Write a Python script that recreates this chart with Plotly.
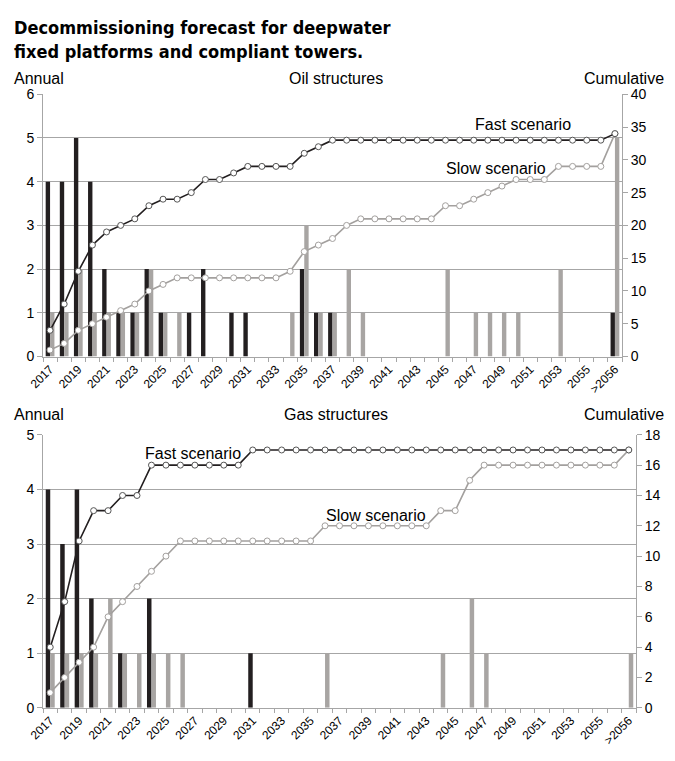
import plotly.graph_objects as go

categories = [str(y) for y in range(2017, 2057)] + [">2056"]

oil_fast_annual = [4, 4, 5, 4, 2, 1, 1, 2, 1, 0, 1, 2, 0, 1, 1, 0, 0, 0, 2, 1,
                   1, 0, 0, 0, 0, 0, 0, 0, 0, 0, 0, 0, 0, 0, 0, 0, 0, 0, 0, 0, 1]
oil_slow_annual = [1, 1, 2, 1, 1, 1, 1, 2, 1, 1, 0, 0, 0, 0, 0, 0, 0, 1, 3, 1,
                   1, 2, 1, 0, 0, 0, 0, 0, 2, 0, 1, 1, 1, 1, 0, 0, 2, 0, 0, 0, 5]
oil_fast_cum = [4, 8, 13, 17, 19, 20, 21, 23, 24, 24, 25, 27, 27, 28, 29, 29, 29, 29, 31, 32,
                33, 33, 33, 33, 33, 33, 33, 33, 33, 33, 33, 33, 33, 33, 33, 33, 33, 33, 33, 33, 34]
oil_slow_cum = [1, 2, 4, 5, 6, 7, 8, 10, 11, 12, 12, 12, 12, 12, 12, 12, 12, 13, 16, 17,
                18, 20, 21, 21, 21, 21, 21, 21, 23, 23, 24, 25, 26, 27, 27, 27, 29, 29, 29, 29, 34]

gas_fast_annual = [4, 3, 4, 2, 0, 1, 0, 2, 0, 0, 0, 0, 0, 0, 1, 0, 0, 0, 0, 0,
                   0, 0, 0, 0, 0, 0, 0, 0, 0, 0, 0, 0, 0, 0, 0, 0, 0, 0, 0, 0, 0]
gas_slow_annual = [1, 1, 1, 1, 2, 1, 1, 1, 1, 1, 0, 0, 0, 0, 0, 0, 0, 0, 0, 1,
                   0, 0, 0, 0, 0, 0, 0, 1, 0, 2, 1, 0, 0, 0, 0, 0, 0, 0, 0, 0, 1]
gas_fast_cum = [4, 7, 11, 13, 13, 14, 14, 16, 16, 16, 16, 16, 16, 16, 17, 17, 17, 17, 17, 17,
                17, 17, 17, 17, 17, 17, 17, 17, 17, 17, 17, 17, 17, 17, 17, 17, 17, 17, 17, 17, 17]
gas_slow_cum = [1, 2, 3, 4, 6, 7, 8, 9, 10, 11, 11, 11, 11, 11, 11, 11, 11, 11, 11, 12,
                12, 12, 12, 12, 12, 12, 12, 13, 13, 15, 16, 16, 16, 16, 16, 16, 16, 16, 16, 16, 17]

BLACK = "#231f20"
GRAY_BAR = "#a8a5a3"
GRAY_LINE = "#a3a09e"
GRID = "#a6a6a6"
AXIS = "#a6a6a6"
FONT = "Liberation Sans, Arial, sans-serif"
TITLE_FONT = "DejaVu Sans Condensed, Liberation Sans Narrow, Liberation Sans, sans-serif"

# the page body has an 8px margin; reference pixel coords are shifted by OFF
OFF = 8
W, H = 675 - 2 * OFF, 761 - 2 * OFF
ML = 43 - OFF
MR = W - (636 - OFF)
PW = W - ML - MR

def py(px):
    return 1 - (px - OFF) / H

def pxx(px):
    return (px - OFF - ML) / PW

xs = list(range(len(categories)))

fig = go.Figure()

def add_panel(fast_a, slow_a, fast_c, slow_c, xa, ya, ya2):
    fig.add_trace(go.Bar(x=xs, y=fast_a, marker_color=BLACK, marker_line_width=0,
                         xaxis=xa, yaxis=ya, showlegend=False, offsetgroup="f"))
    fig.add_trace(go.Bar(x=xs, y=slow_a, marker_color=GRAY_BAR, marker_line_width=0,
                         xaxis=xa, yaxis=ya, showlegend=False, offsetgroup="s"))
    fig.add_trace(go.Scatter(x=xs, y=slow_c, mode="lines+markers", xaxis=xa, yaxis=ya2,
                             line=dict(color=GRAY_LINE, width=1.6),
                             marker=dict(symbol="circle", size=6, color="white",
                                         line=dict(color=GRAY_LINE, width=1)),
                             showlegend=False))
    fig.add_trace(go.Scatter(x=xs, y=fast_c, mode="lines+markers", xaxis=xa, yaxis=ya2,
                             line=dict(color=BLACK, width=1.6),
                             marker=dict(symbol="circle", size=6, color="white",
                                         line=dict(color="#555555", width=1)),
                             showlegend=False))

add_panel(oil_fast_annual, oil_slow_annual, oil_fast_cum, oil_slow_cum, "x", "y", "y2")
add_panel(gas_fast_annual, gas_slow_annual, gas_fast_cum, gas_slow_cum, "x2", "y3", "y4")

tickvals = xs[::2]
ticktext = categories[::2]
minor_vals = [i - 0.5 for i in range(len(categories) + 1)]

def xaxis_cfg(domain, anchor):
    return dict(domain=domain, anchor=anchor, range=[-0.5, len(categories) - 0.5],
                tickmode="array", tickvals=tickvals, ticktext=ticktext, tickangle=-45,
                ticks="", showgrid=False, zeroline=False, showline=True,
                linecolor=AXIS, linewidth=1,
                tickfont=dict(family=FONT, size=12, color="black"),
                minor=dict(tickmode="array", tickvals=minor_vals, ticks="outside",
                           ticklen=4, tickcolor=AXIS, showgrid=False))

def yleft_cfg(domain, anchor, rng, dtick):
    return dict(domain=domain, anchor=anchor, range=rng, dtick=dtick, side="left",
                showgrid=True, gridcolor=GRID, gridwidth=1, zeroline=False,
                showline=True, linecolor=AXIS, linewidth=1, ticks="outside",
                ticklen=5, tickcolor=AXIS,
                tickfont=dict(family=FONT, size=14, color="black"))

def yright_cfg(overlay, anchor, rng, dtick):
    return dict(overlaying=overlay, anchor=anchor, side="right", range=rng, dtick=dtick,
                showgrid=False, zeroline=False, showline=True, linecolor=AXIS,
                linewidth=1, ticks="outside", ticklen=5, tickcolor=AXIS,
                tickfont=dict(family=FONT, size=14, color="black"))

top_dom_x = [0, pxx(622)]
bot_dom_x = [0, 1]
top_dom_y = [py(356), py(88)]
bot_dom_y = [py(715), py(436)]

fig.update_layout(
    width=W, height=H,
    margin=dict(l=ML, r=MR, t=0, b=0),
    paper_bgcolor="white", plot_bgcolor="white",
    barmode="group", bargap=0.38, bargroupgap=0,
    xaxis=xaxis_cfg(top_dom_x, "y"),
    yaxis=yleft_cfg(top_dom_y, "x", [0, 6], 1),
    yaxis2=yright_cfg("y", "x", [0, 40], 5),
    xaxis2=xaxis_cfg(bot_dom_x, "y3"),
    yaxis3=yleft_cfg(bot_dom_y, "x2", [0, 5], 1),
    yaxis4=yright_cfg("y3", "x2", [0, 18], 2),
)

ann = []
ann.append(dict(text="<b>Decommissioning forecast for deepwater</b>", x=pxx(12), y=py(20),
                xref="paper", yref="paper", xanchor="left", yanchor="middle", showarrow=False,
                font=dict(family=TITLE_FONT, size=18, color="black")))
ann.append(dict(text="<b>fixed platforms and compliant towers.</b>", x=pxx(12), y=py(44),
                xref="paper", yref="paper", xanchor="left", yanchor="middle", showarrow=False,
                font=dict(family=TITLE_FONT, size=18, color="black")))

for yc, name in [(72, "Oil structures"), (415, "Gas structures")]:
    ann.append(dict(text="Annual", x=pxx(12), y=py(yc), xref="paper", yref="paper",
                    xanchor="left", yanchor="middle", showarrow=False,
                    font=dict(family=FONT, size=16, color="black")))
    ann.append(dict(text=name, x=pxx(336), y=py(yc), xref="paper", yref="paper",
                    xanchor="center", yanchor="middle", showarrow=False,
                    font=dict(family=FONT, size=16, color="black")))
    ann.append(dict(text="Cumulative", x=pxx(666), y=py(yc), xref="paper", yref="paper",
                    xanchor="right", yanchor="middle", showarrow=False,
                    font=dict(family=FONT, size=16, color="black")))

scen = [("Fast scenario", 33.5, 35.4, "x", "y2"),
        ("Slow scenario", 31.6, 28.7, "x", "y2"),
        ("Fast scenario", 9.9, 16.8, "x2", "y4"),
        ("Slow scenario", 22.5, 12.7, "x2", "y4")]
for t, xv, yv, xr, yr in scen:
    ann.append(dict(text=t, x=xv, y=yv, xref=xr, yref=yr, xanchor="center",
                    yanchor="middle", showarrow=False,
                    font=dict(family=FONT, size=16, color="black")))

fig.update_layout(annotations=ann)

fig.write_html("out.html")
